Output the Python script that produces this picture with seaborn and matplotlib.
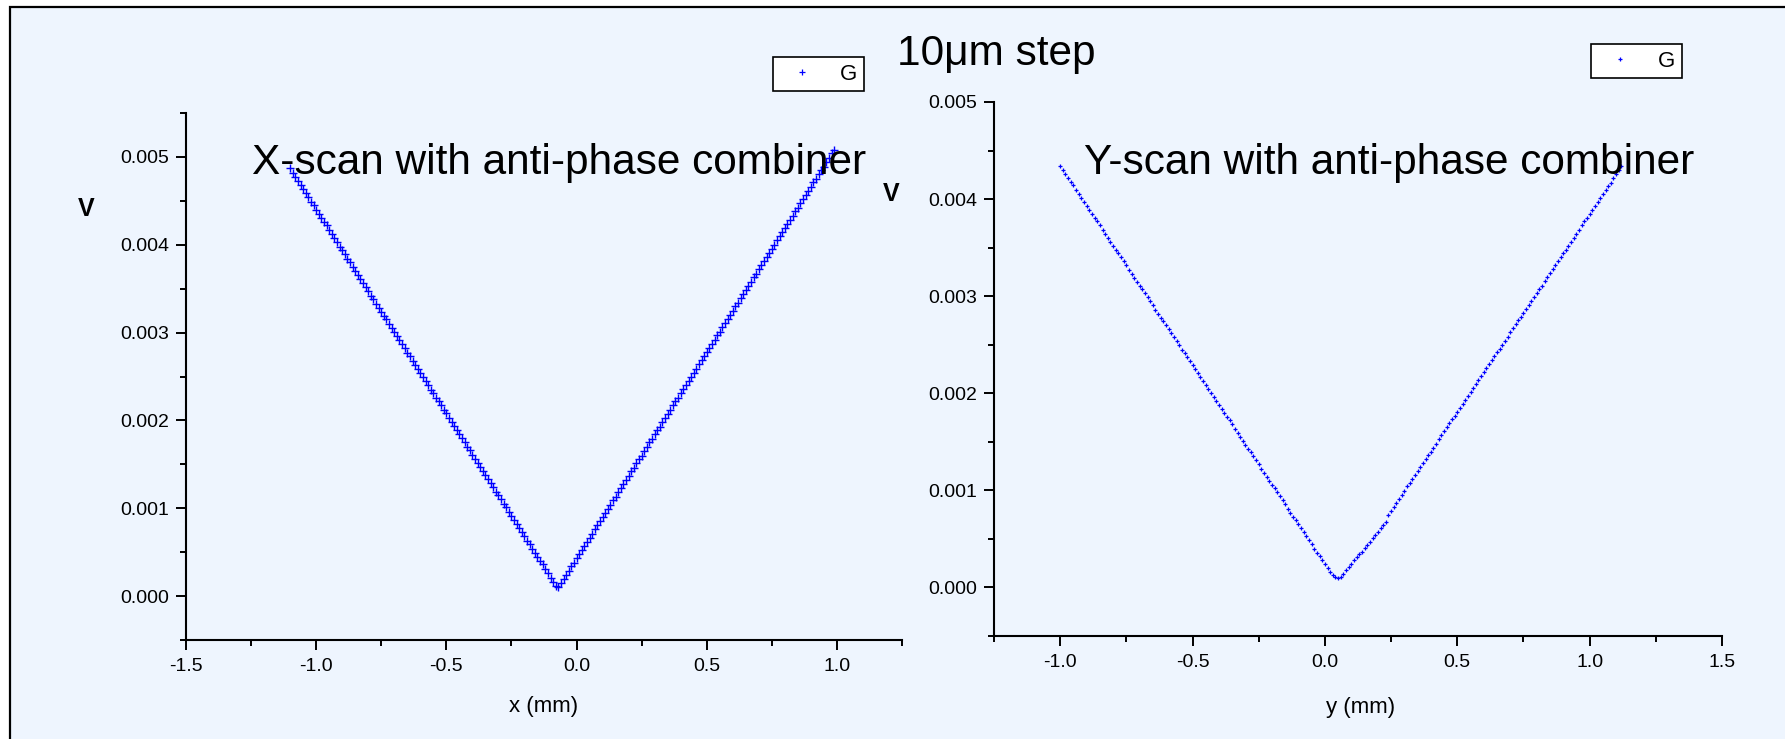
import numpy as np
import pandas as pd
import matplotlib
matplotlib.use('Agg')
import matplotlib.pyplot as plt
import seaborn as sns
from matplotlib.lines import Line2D
from matplotlib.patches import Rectangle
from matplotlib.ticker import MultipleLocator, FormatStrFormatter

# scan step 10 um (0.01 mm)
step_mm = 0.01

# X-scan : x from -1.10 mm, signal in mV
x_start = -1.10
x_scan_mv = [
    4.87, 4.82, 4.77, 4.73, 4.68, 4.63, 4.59, 4.54, 4.49, 4.45,
    4.40, 4.35, 4.31, 4.26, 4.22, 4.17, 4.12, 4.08, 4.03, 3.98,
    3.94, 3.89, 3.84, 3.80, 3.75, 3.70, 3.66, 3.61, 3.56, 3.52,
    3.47, 3.42, 3.38, 3.33, 3.28, 3.24, 3.19, 3.15, 3.10, 3.05,
    3.01, 2.96, 2.91, 2.87, 2.82, 2.77, 2.73, 2.68, 2.63, 2.59,
    2.54, 2.49, 2.45, 2.40, 2.35, 2.31, 2.26, 2.22, 2.17, 2.12,
    2.08, 2.03, 1.98, 1.94, 1.89, 1.84, 1.80, 1.75, 1.70, 1.66,
    1.61, 1.56, 1.52, 1.47, 1.42, 1.38, 1.33, 1.29, 1.24, 1.19,
    1.15, 1.10, 1.05, 1.01, 0.96, 0.91, 0.87, 0.82, 0.77, 0.73,
    0.68, 0.63, 0.59, 0.54, 0.49, 0.45, 0.40, 0.36, 0.31, 0.26,
    0.21, 0.16, 0.11, 0.10,
    0.15, 0.20, 0.24, 0.29, 0.34, 0.38, 0.43, 0.48, 0.52, 0.57,
    0.62, 0.66, 0.71, 0.76, 0.81, 0.85, 0.90, 0.95, 0.99, 1.04,
    1.09, 1.13, 1.18, 1.23, 1.28, 1.32, 1.37, 1.42, 1.46, 1.51,
    1.56, 1.60, 1.65, 1.70, 1.75, 1.79, 1.84, 1.89, 1.93, 1.98,
    2.03, 2.07, 2.12, 2.17, 2.22, 2.26, 2.31, 2.36, 2.40, 2.45,
    2.50, 2.54, 2.59, 2.64, 2.69, 2.73, 2.78, 2.83, 2.87, 2.92,
    2.97, 3.01, 3.06, 3.11, 3.16, 3.20, 3.25, 3.30, 3.34, 3.39,
    3.44, 3.48, 3.53, 3.58, 3.63, 3.67, 3.72, 3.77, 3.81, 3.86,
    3.91, 3.95, 4.00, 4.05, 4.10, 4.14, 4.19, 4.24, 4.28, 4.33,
    4.38, 4.42, 4.47, 4.52, 4.57, 4.61, 4.66, 4.71, 4.75, 4.80,
    4.85, 4.89, 4.94, 4.99, 5.04, 5.08,
]

# Y-scan : y from -1.00 mm, signal in mV
y_start = -1.00
y_scan_mv = [
    4.34, 4.30, 4.26, 4.22, 4.18, 4.14, 4.09, 4.05, 4.01, 3.97,
    3.93, 3.89, 3.85, 3.81, 3.77, 3.73, 3.68, 3.64, 3.60, 3.56,
    3.52, 3.48, 3.44, 3.40, 3.36, 3.32, 3.27, 3.23, 3.19, 3.15,
    3.11, 3.07, 3.03, 2.99, 2.95, 2.91, 2.86, 2.82, 2.78, 2.74,
    2.70, 2.66, 2.62, 2.58, 2.54, 2.50, 2.45, 2.41, 2.37, 2.33,
    2.29, 2.25, 2.21, 2.17, 2.13, 2.09, 2.04, 2.00, 1.96, 1.92,
    1.88, 1.84, 1.80, 1.76, 1.72, 1.68, 1.63, 1.59, 1.55, 1.51,
    1.47, 1.43, 1.39, 1.35, 1.31, 1.27, 1.22, 1.18, 1.14, 1.10,
    1.06, 1.02, 0.98, 0.94, 0.90, 0.86, 0.81, 0.77, 0.73, 0.69,
    0.65, 0.61, 0.57, 0.53, 0.49, 0.45, 0.40, 0.36, 0.32, 0.28,
    0.24, 0.20, 0.16, 0.13, 0.11, 0.10, 0.11,
    0.14, 0.18, 0.21, 0.24, 0.28, 0.31, 0.34, 0.37, 0.41, 0.44,
    0.47, 0.51, 0.54, 0.57, 0.61, 0.64, 0.67,
    0.75, 0.79, 0.83, 0.87, 0.91, 0.95, 0.99, 1.04, 1.08, 1.12,
    1.16, 1.20, 1.24, 1.28, 1.32, 1.36, 1.40, 1.44, 1.48, 1.53,
    1.57, 1.61, 1.65, 1.69, 1.73, 1.77, 1.81, 1.85, 1.89, 1.93,
    1.97, 2.01, 2.05, 2.10, 2.14, 2.18, 2.22, 2.26, 2.30, 2.34,
    2.38, 2.42, 2.46, 2.50, 2.54, 2.58, 2.63, 2.67, 2.71, 2.75,
    2.79, 2.83, 2.87, 2.91, 2.95, 2.99, 3.03, 3.07, 3.11, 3.16,
    3.20, 3.24, 3.28, 3.32, 3.36, 3.40, 3.44, 3.48, 3.52, 3.56,
    3.60, 3.64, 3.68, 3.73, 3.77, 3.81, 3.85, 3.89, 3.93, 3.97,
    4.01, 4.05, 4.09, 4.13, 4.17, 4.22, 4.26, 4.30, 4.34,
]

df_x = pd.DataFrame({'pos': np.round(x_start + step_mm * np.arange(len(x_scan_mv)), 2),
                     'V': np.array(x_scan_mv) / 1000})
df_y = pd.DataFrame({'pos': np.round(y_start + step_mm * np.arange(len(y_scan_mv)), 2),
                     'V': np.array(y_scan_mv) / 1000})

sns.set_style('ticks')
plt.rcParams['font.family'] = ['Liberation Sans', 'DejaVu Sans']
plt.rcParams['axes.unicode_minus'] = False
plt.rcParams['text.color'] = 'black'
plt.rcParams['xtick.color'] = 'black'
plt.rcParams['ytick.color'] = 'black'
plt.rcParams['axes.labelcolor'] = 'black'

bg = '#EEF5FE'
W, H = 1785, 739
fig = plt.figure(figsize=(W / 100, H / 100), dpi=100, facecolor='white')
frame = Rectangle((10 / W, -0.1), 1.2, 1.1 - 7 / H, transform=fig.transFigure,
                  facecolor=bg, edgecolor='black', linewidth=1.6, zorder=-10)
fig.patches.append(frame)

def px_axes(x0, x1, ytop, ybot):
    return fig.add_axes([x0 / W, 1 - ybot / H, (x1 - x0) / W, (ybot - ytop) / H])

ax1 = px_axes(186, 902, 113, 640)
ax2 = px_axes(994, 1722, 102, 636)

sns.scatterplot(data=df_x, x='pos', y='V', ax=ax1, marker='+', color='blue',
                s=40, linewidth=1.0, legend=False)
sns.scatterplot(data=df_y, x='pos', y='V', ax=ax2, marker='+', color='blue',
                s=12, linewidth=0.9, legend=False)

ax1.set_xlim(-1.5, 1.25)
ax1.set_ylim(-0.0005, 0.0055)
ax2.set_xlim(-1.25, 1.5)
ax2.set_ylim(-0.0005, 0.005)

for ax in (ax1, ax2):
    ax.patch.set_visible(False)
    for s in ('top', 'right'):
        ax.spines[s].set_visible(False)
    for s in ('left', 'bottom'):
        ax.spines[s].set_linewidth(1.5)
        ax.spines[s].set_color('black')
    ax.xaxis.set_major_locator(MultipleLocator(0.5))
    ax.xaxis.set_minor_locator(MultipleLocator(0.25))
    ax.yaxis.set_major_locator(MultipleLocator(0.001))
    ax.yaxis.set_minor_locator(MultipleLocator(0.0005))
    ax.xaxis.set_major_formatter(FormatStrFormatter('%.1f'))
    ax.yaxis.set_major_formatter(FormatStrFormatter('%.3f'))
    ax.tick_params(which='major', direction='out', length=7.2, width=1.4, labelsize=14, pad=5)
    ax.tick_params(which='minor', direction='out', length=4.3, width=1.4)
    ax.tick_params(axis='x', which='major', pad=6)

ax1.set_xlabel('x (mm)', fontsize=16, va='center')
ax1.xaxis.set_label_coords(0.5, -0.127)
ax1.set_ylabel('V', fontsize=18, fontweight='bold', rotation=0, va='center', ha='center')
ax1.yaxis.set_label_coords(-0.14, 0.818)

ax2.set_xlabel('y (mm)', fontsize=16, va='center')
ax2.xaxis.set_label_coords(0.504, -0.133)
ax2.set_ylabel('V', fontsize=18, fontweight='bold', rotation=0, va='center', ha='center')
ax2.yaxis.set_label_coords(-0.1415, 0.827)

fig.text(996 / W, 1 - 54 / H, '10μm step', fontsize=30.5, ha='center', va='center')
fig.text(559 / W, 1 - 163 / H, 'X-scan with anti-phase combiner', fontsize=30.5, ha='center', va='center')
fig.text(1389 / W, 1 - 163 / H, 'Y-scan with anti-phase combiner', fontsize=30.5, ha='center', va='center')

def add_legend(x, y, ms):
    h = [Line2D([], [], marker='+', color='blue', linestyle='none', markersize=ms, markeredgewidth=0.9)]
    leg = fig.legend(h, ['G'], loc='upper left', bbox_to_anchor=(x / W, 1 - y / H),
                     fontsize=16, frameon=True, fancybox=False, framealpha=1,
                     handlelength=2.0, handletextpad=0.7, borderpad=0.3, borderaxespad=0)
    leg.get_frame().set_edgecolor('black')
    leg.get_frame().set_linewidth(1.2)
    leg.get_frame().set_facecolor('white')

add_legend(773, 57, 5)
add_legend(1591, 44, 3.5)

fig.savefig('out.png', dpi=100, facecolor=fig.get_facecolor())
